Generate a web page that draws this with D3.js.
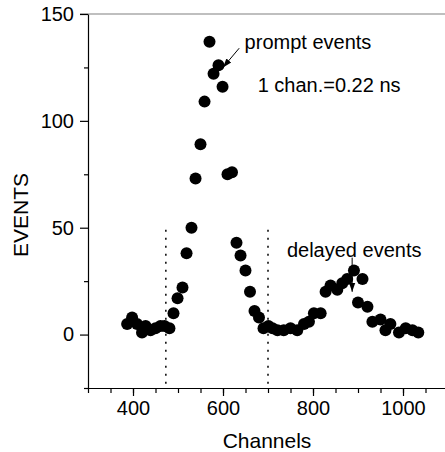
<!DOCTYPE html>
<html>
<head>
<meta charset="utf-8">
<script src="https://cdn.jsdelivr.net/npm/d3@7"></script>
<style>
	body { margin: 0; background: #fff; }
	svg { display: block; font-family: "Liberation Sans", Arial, sans-serif; }
</style>
</head>
<body>
<svg id="chart" width="445" height="452"></svg>
<script>
// channel numbers and counted events
var channels = [387, 398, 409, 420, 428, 439, 450, 461, 470, 481,
	490, 499, 510, 519, 530, 539, 550, 559, 570, 579,
	590, 599, 610, 620, 630, 639, 650, 660, 670, 680,
	690, 701, 710, 721, 735, 750, 765, 780, 791, 802,
	817, 828, 839, 854, 865, 876, 891, 900, 910, 921,
	932, 950, 961, 972, 991, 1006, 1021, 1034];
var events = [5, 8, 5, 1, 4, 2, 3, 4, 4, 3,
	10, 17, 22, 38, 50, 73, 89, 109, 137, 122,
	126, 116, 75, 76, 43, 37, 30, 20, 11, 8,
	3, 4, 3, 2, 2, 3, 2, 5, 6, 10,
	10, 20, 23, 21, 24, 26, 30, 15, 26, 13,
	6, 7, 2, 5, 1, 3, 2, 1];

// window boundaries (dotted lines)
var windowChannels = [473, 700];
var windowTop = 49;

var xMajorTicks = [400, 600, 800, 1000];
var yMajorTicks = [0, 50, 100, 150];

var svg = d3.select("#chart");

var x = d3.scaleLinear().domain([300, 1100]).range([88, 448]);
var y = d3.scaleLinear().domain([-25, 150]).range([388, 14]);

// top frame line, grey
svg.append("line")
	.attr("x1", 80).attr("x2", 450)
	.attr("y1", y(150)).attr("y2", y(150))
	.attr("stroke", "#808080")
	.attr("stroke-width", 1.2);

// minor ticks first, then the major axis on top
svg.append("g")
	.attr("transform", "translate(0," + y(-25) + ")")
	.call(d3.axisBottom(x).tickValues(d3.range(300, 1101, 50)).tickSize(5).tickFormat(""))
	.call(function(g) { g.select(".domain").remove(); });
svg.append("g")
	.attr("transform", "translate(" + x(300) + ",0)")
	.call(d3.axisLeft(y).tickValues([-25, 25, 75, 125]).tickSize(4).tickFormat(""))
	.call(function(g) { g.select(".domain").remove(); });

var xAxis = svg.append("g")
	.attr("transform", "translate(0," + y(-25) + ")")
	.call(d3.axisBottom(x).tickValues(xMajorTicks).tickFormat(d3.format("d"))
		.tickSize(8).tickPadding(5).tickSizeOuter(0));
var yAxis = svg.append("g")
	.attr("transform", "translate(" + x(300) + ",0)")
	.call(d3.axisLeft(y).tickValues(yMajorTicks).tickFormat(d3.format("d"))
		.tickSize(8).tickPadding(6).tickSizeOuter(0));

[xAxis, yAxis].forEach(function(g) {
	g.selectAll("text")
		.attr("font-size", 20)
		.attr("font-family", "Liberation Sans, Arial, sans-serif")
		.attr("fill", "#000");
	g.selectAll("line, path").attr("stroke", "#000").attr("stroke-width", 1.2);
});
svg.selectAll("g line").attr("stroke-width", 1.2);

// extend x axis line slightly past the y axis like the original
xAxis.select(".domain").attr("d", "M85,0.5H450");

// axis titles
svg.append("text")
	.attr("x", 267).attr("y", 448)
	.attr("text-anchor", "middle")
	.attr("font-size", 21)
	.text("Channels");
svg.append("text")
	.attr("transform", "translate(28,215) rotate(-90)")
	.attr("text-anchor", "middle")
	.attr("font-size", 21)
	.text("EVENTS");

// dotted window lines
svg.selectAll(".window")
	.data(windowChannels)
	.enter().append("line")
	.attr("class", "window")
	.attr("x1", function(d) { return x(d); })
	.attr("x2", function(d) { return x(d); })
	.attr("y1", y(windowTop))
	.attr("y2", y(-25))
	.attr("stroke", "#000")
	.attr("stroke-width", 1.5)
	.attr("stroke-dasharray", "2,6");

// arrow head marker
svg.append("defs").append("marker")
	.attr("id", "head")
	.attr("viewBox", "0 0 10 10")
	.attr("refX", 10).attr("refY", 5)
	.attr("markerWidth", 9).attr("markerHeight", 9)
	.attr("markerUnits", "userSpaceOnUse")
	.attr("orient", "auto")
	.append("path")
	.attr("d", "M0,1.5L10,5L0,8.5Z")
	.attr("fill", "#000");

// annotations
svg.append("line")
	.attr("x1", x(636)).attr("y1", y(134))
	.attr("x2", x(600)).attr("y2", y(125))
	.attr("stroke", "#000").attr("stroke-width", 1)
	.attr("marker-end", "url(#head)");
svg.append("line")
	.attr("x1", x(887)).attr("y1", y(36))
	.attr("x2", x(887)).attr("y2", y(20))
	.attr("stroke", "#000").attr("stroke-width", 1)
	.attr("marker-end", "url(#head)");

svg.append("text")
	.attr("x", x(648)).attr("y", y(133.5))
	.attr("font-size", 20)
	.text("prompt events");
svg.append("text")
	.attr("x", x(677)).attr("y", y(113.5))
	.attr("font-size", 20)
	.text("1 chan.=0.22 ns");
svg.append("text")
	.attr("x", x(742)).attr("y", y(36.5))
	.attr("font-size", 20)
	.text("delayed events");

// data points
svg.selectAll(".pt")
	.data(channels)
	.enter().append("circle")
	.attr("class", "pt")
	.attr("cx", function(d) { return x(d); })
	.attr("cy", function(d, i) { return y(events[i]); })
	.attr("r", 6)
	.attr("fill", "#000");
</script>
</body>
</html>
